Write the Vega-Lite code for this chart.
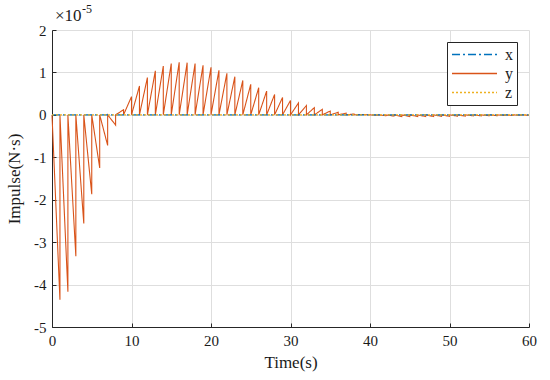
{
  "$schema": "https://vega.github.io/schema/vega-lite/v6.json",
  "width": 477,
  "height": 297,
  "autosize": {"type": "none"},
  "padding": {"left": 52, "top": 30, "right": 21, "bottom": 53},
  "background": "white",
  "datasets": {
    "lines": [
      {"s": "x", "i": 0, "t": 0, "v": 0},
      {"s": "x", "i": 1, "t": 60, "v": 0},
      {"s": "z", "i": 0, "t": 0, "v": 0},
      {"s": "z", "i": 1, "t": 60, "v": 0},
      {"s": "y", "i": 0, "t": 0, "v": 0},
      {"s": "y", "i": 1, "t": 1, "v": -4.36e-5},
      {"s": "y", "i": 2, "t": 1, "v": 0},
      {"s": "y", "i": 3, "t": 2, "v": -4.17e-5},
      {"s": "y", "i": 4, "t": 2, "v": 0},
      {"s": "y", "i": 5, "t": 3, "v": -3.33e-5},
      {"s": "y", "i": 6, "t": 3, "v": 0},
      {"s": "y", "i": 7, "t": 4, "v": -2.56e-5},
      {"s": "y", "i": 8, "t": 4, "v": 0},
      {"s": "y", "i": 9, "t": 5, "v": -1.87e-5},
      {"s": "y", "i": 10, "t": 5, "v": 0},
      {"s": "y", "i": 11, "t": 6, "v": -1.25e-5},
      {"s": "y", "i": 12, "t": 6, "v": 0},
      {"s": "y", "i": 13, "t": 7, "v": -0.72e-5},
      {"s": "y", "i": 14, "t": 7, "v": 0},
      {"s": "y", "i": 15, "t": 8, "v": -0.24e-5},
      {"s": "y", "i": 16, "t": 8, "v": 0},
      {"s": "y", "i": 17, "t": 9, "v": 0.12e-5},
      {"s": "y", "i": 18, "t": 9, "v": 0},
      {"s": "y", "i": 19, "t": 10, "v": 0.43e-5},
      {"s": "y", "i": 20, "t": 10, "v": 0},
      {"s": "y", "i": 21, "t": 11, "v": 0.68e-5},
      {"s": "y", "i": 22, "t": 11, "v": 0},
      {"s": "y", "i": 23, "t": 12, "v": 0.88e-5},
      {"s": "y", "i": 24, "t": 12, "v": 0},
      {"s": "y", "i": 25, "t": 13, "v": 1.04e-5},
      {"s": "y", "i": 26, "t": 13, "v": 0},
      {"s": "y", "i": 27, "t": 14, "v": 1.15e-5},
      {"s": "y", "i": 28, "t": 14, "v": 0},
      {"s": "y", "i": 29, "t": 15, "v": 1.21e-5},
      {"s": "y", "i": 30, "t": 15, "v": 0},
      {"s": "y", "i": 31, "t": 16, "v": 1.24e-5},
      {"s": "y", "i": 32, "t": 16, "v": 0},
      {"s": "y", "i": 33, "t": 17, "v": 1.23e-5},
      {"s": "y", "i": 34, "t": 17, "v": 0},
      {"s": "y", "i": 35, "t": 18, "v": 1.21e-5},
      {"s": "y", "i": 36, "t": 18, "v": 0},
      {"s": "y", "i": 37, "t": 19, "v": 1.17e-5},
      {"s": "y", "i": 38, "t": 19, "v": 0},
      {"s": "y", "i": 39, "t": 20, "v": 1.12e-5},
      {"s": "y", "i": 40, "t": 20, "v": 0},
      {"s": "y", "i": 41, "t": 21, "v": 1.05e-5},
      {"s": "y", "i": 42, "t": 21, "v": 0},
      {"s": "y", "i": 43, "t": 22, "v": 0.98e-5},
      {"s": "y", "i": 44, "t": 22, "v": 0},
      {"s": "y", "i": 45, "t": 23, "v": 0.90e-5},
      {"s": "y", "i": 46, "t": 23, "v": 0},
      {"s": "y", "i": 47, "t": 24, "v": 0.81e-5},
      {"s": "y", "i": 48, "t": 24, "v": 0},
      {"s": "y", "i": 49, "t": 25, "v": 0.72e-5},
      {"s": "y", "i": 50, "t": 25, "v": 0},
      {"s": "y", "i": 51, "t": 26, "v": 0.64e-5},
      {"s": "y", "i": 52, "t": 26, "v": 0},
      {"s": "y", "i": 53, "t": 27, "v": 0.56e-5},
      {"s": "y", "i": 54, "t": 27, "v": 0},
      {"s": "y", "i": 55, "t": 28, "v": 0.48e-5},
      {"s": "y", "i": 56, "t": 28, "v": 0},
      {"s": "y", "i": 57, "t": 29, "v": 0.41e-5},
      {"s": "y", "i": 58, "t": 29, "v": 0},
      {"s": "y", "i": 59, "t": 30, "v": 0.34e-5},
      {"s": "y", "i": 60, "t": 30, "v": 0},
      {"s": "y", "i": 61, "t": 31, "v": 0.28e-5},
      {"s": "y", "i": 62, "t": 31, "v": 0},
      {"s": "y", "i": 63, "t": 32, "v": 0.22e-5},
      {"s": "y", "i": 64, "t": 32, "v": 0},
      {"s": "y", "i": 65, "t": 33, "v": 0.17e-5},
      {"s": "y", "i": 66, "t": 33, "v": 0},
      {"s": "y", "i": 67, "t": 34, "v": 0.13e-5},
      {"s": "y", "i": 68, "t": 34, "v": 0},
      {"s": "y", "i": 69, "t": 35, "v": 0.09e-5},
      {"s": "y", "i": 70, "t": 35, "v": 0},
      {"s": "y", "i": 71, "t": 36, "v": 0.06e-5},
      {"s": "y", "i": 72, "t": 36, "v": 0},
      {"s": "y", "i": 73, "t": 37, "v": 0.04e-5},
      {"s": "y", "i": 74, "t": 37, "v": 0},
      {"s": "y", "i": 75, "t": 38, "v": 0.02e-5},
      {"s": "y", "i": 76, "t": 38, "v": 0},
      {"s": "y", "i": 77, "t": 39, "v": 0.01e-5},
      {"s": "y", "i": 78, "t": 40, "v": 0},
      {"s": "y", "i": 79, "t": 41, "v": -0.01e-5},
      {"s": "y", "i": 80, "t": 41, "v": 0},
      {"s": "y", "i": 81, "t": 42, "v": -0.02e-5},
      {"s": "y", "i": 82, "t": 42, "v": 0},
      {"s": "y", "i": 83, "t": 43, "v": -0.03e-5},
      {"s": "y", "i": 84, "t": 43, "v": 0},
      {"s": "y", "i": 85, "t": 44, "v": -0.04e-5},
      {"s": "y", "i": 86, "t": 44, "v": 0},
      {"s": "y", "i": 87, "t": 45, "v": -0.04e-5},
      {"s": "y", "i": 88, "t": 45, "v": 0},
      {"s": "y", "i": 89, "t": 46, "v": -0.04e-5},
      {"s": "y", "i": 90, "t": 46, "v": 0},
      {"s": "y", "i": 91, "t": 47, "v": -0.04e-5},
      {"s": "y", "i": 92, "t": 47, "v": 0},
      {"s": "y", "i": 93, "t": 48, "v": -0.04e-5},
      {"s": "y", "i": 94, "t": 48, "v": 0},
      {"s": "y", "i": 95, "t": 49, "v": -0.035e-5},
      {"s": "y", "i": 96, "t": 49, "v": 0},
      {"s": "y", "i": 97, "t": 50, "v": -0.035e-5},
      {"s": "y", "i": 98, "t": 50, "v": 0},
      {"s": "y", "i": 99, "t": 51, "v": -0.03e-5},
      {"s": "y", "i": 100, "t": 51, "v": 0},
      {"s": "y", "i": 101, "t": 52, "v": -0.03e-5},
      {"s": "y", "i": 102, "t": 52, "v": 0},
      {"s": "y", "i": 103, "t": 53, "v": -0.025e-5},
      {"s": "y", "i": 104, "t": 53, "v": 0},
      {"s": "y", "i": 105, "t": 54, "v": -0.025e-5},
      {"s": "y", "i": 106, "t": 54, "v": 0},
      {"s": "y", "i": 107, "t": 55, "v": -0.02e-5},
      {"s": "y", "i": 108, "t": 55, "v": 0},
      {"s": "y", "i": 109, "t": 56, "v": -0.02e-5},
      {"s": "y", "i": 110, "t": 56, "v": 0},
      {"s": "y", "i": 111, "t": 57, "v": -0.015e-5},
      {"s": "y", "i": 112, "t": 57, "v": 0},
      {"s": "y", "i": 113, "t": 58, "v": -0.015e-5},
      {"s": "y", "i": 114, "t": 58, "v": 0},
      {"s": "y", "i": 115, "t": 59, "v": -0.01e-5},
      {"s": "y", "i": 116, "t": 59, "v": 0},
      {"s": "y", "i": 117, "t": 60, "v": -0.01e-5}
    ],
    "exponent": [
      {"t": 0, "v": 2e-5, "base": "×10", "exp": "-5"}
    ]
  },
  "config": {
    "font": "Liberation Serif",
    "view": {"stroke": null},
    "axis": {
      "labelFont": "Liberation Serif",
      "titleFont": "Liberation Serif",
      "labelFontSize": 15,
      "titleFontSize": 17,
      "titleFontWeight": "normal",
      "labelColor": "#1a1a1a",
      "titleColor": "#1a1a1a",
      "domainColor": "#262626",
      "tickColor": "#262626",
      "gridColor": "#dedede",
      "gridWidth": 1,
      "domainWidth": 1,
      "tickSize": -4,
      "labelPadding": 10
    },
    "legend": {
      "labelFont": "Liberation Serif",
      "labelFontSize": 16,
      "labelColor": "#1a1a1a"
    }
  },
  "layer": [
    {
      "data": {"name": "lines"},
      "transform": [{"filter": "datum.s === 'y'"}],
      "mark": {"type": "line", "strokeWidth": 1.1},
      "encoding": {
        "x": {
          "field": "t", "type": "quantitative",
          "scale": {"domain": [0, 60], "nice": false},
          "axis": {"values": [0, 10, 20, 30, 40, 50, 60], "title": "Time(s)", "titlePadding": 6, "labelFlush": false}
        },
        "y": {
          "field": "v", "type": "quantitative",
          "scale": {"domain": [-5e-5, 2e-5], "nice": false, "zero": false},
          "axis": {
            "values": [-5e-5, -4e-5, -3e-5, -2e-5, -1e-5, 0, 1e-5, 2e-5],
            "labelExpr": "round(datum.value * 100000)",
            "title": "Impulse(N·s)",
            "titlePadding": 10
          }
        },
        "order": {"field": "i", "type": "quantitative"},
        "color": {
          "field": "s", "type": "nominal",
          "scale": {"domain": ["x", "y", "z"], "range": ["#0072BD", "#D95319", "#EDB120"]},
          "legend": {
            "title": null,
            "orient": "top-right",
            "offset": 12,
            "symbolType": "M-1,0H5",
            "symbolSize": 225,
            "symbolStrokeWidth": 1.5,
            "strokeColor": "#262626",
            "fillColor": "white",
            "padding": 4,
            "rowPadding": 2,
            "labelOffset": 37
          }
        },
        "strokeDash": {
          "field": "s", "type": "nominal",
          "scale": {"domain": ["x", "y", "z"], "range": [[8, 3, 2, 3], [1, 0], [2, 2]]},
          "legend": {"title": null}
        }
      }
    },
    {
      "data": {"name": "lines"},
      "transform": [{"filter": "datum.s !== 'y'"}],
      "mark": {"type": "line", "strokeWidth": 1.1},
      "encoding": {
        "x": {"field": "t", "type": "quantitative"},
        "y": {"field": "v", "type": "quantitative"},
        "order": {"field": "i", "type": "quantitative"},
        "color": {"field": "s", "type": "nominal"},
        "strokeDash": {"field": "s", "type": "nominal"}
      }
    },
    {
      "data": {"name": "exponent"},
      "mark": {"type": "text", "align": "left", "baseline": "alphabetic", "dx": 3, "dy": -9, "fontSize": 17, "font": "Liberation Serif", "color": "#1a1a1a"},
      "encoding": {
        "x": {"field": "t", "type": "quantitative"},
        "y": {"field": "v", "type": "quantitative"},
        "text": {"field": "base"}
      }
    },
    {
      "data": {"name": "exponent"},
      "mark": {"type": "text", "align": "left", "baseline": "alphabetic", "dx": 30, "dy": -17, "fontSize": 12, "font": "Liberation Serif", "color": "#1a1a1a"},
      "encoding": {
        "x": {"field": "t", "type": "quantitative"},
        "y": {"field": "v", "type": "quantitative"},
        "text": {"field": "exp"}
      }
    }
  ]
}
